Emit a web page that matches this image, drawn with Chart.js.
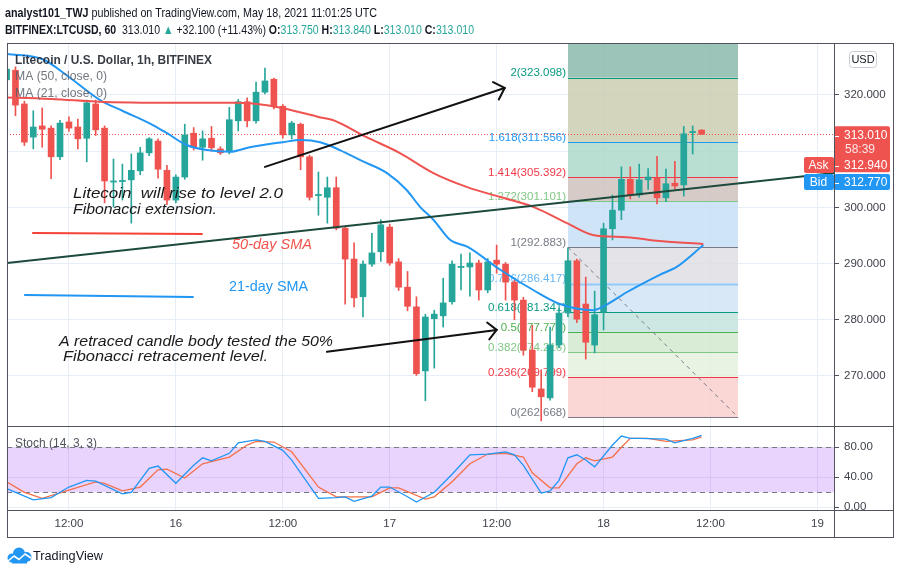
<!DOCTYPE html>
<html><head><meta charset="utf-8">
<script src="https://cdn.jsdelivr.net/npm/chart.js@4.4.1/dist/chart.umd.min.js"></script>
<style>
html,body{margin:0;padding:0;background:#fff;overflow:hidden;}
#wrap{position:relative;width:900px;height:574px;background:#fff;}
canvas{position:absolute;left:0;top:0;}
</style></head><body>
<div id="wrap"><canvas id="main" width="900" height="574"></canvas><canvas id="stoch" width="900" height="574"></canvas></div>
<script>
// ---------- DATA ----------
// hours counted from May 15 00:00 UTC
const candleHours = [5,6,7,8,9,10,11,12,13,14,15,16,17,18,19,20,21,22,23,24,25,26,27,28,29,30,31,32,33,34,35,36,37,38,39,40,41,42,43,44,45,46,47,48,49,50,51,52,53,54,55,56,57,58,59,60,61,62,63,64,65,66,67,68,69,70,71,72,73,74,75,76,77,78,79,80,81,82,83];
const opens  = [322.7,324.4,318.4,312.5,314.5,314.1,309.0,315.2,314.3,312.3,318.4,314.1,304.5,304.6,304.9,306.5,309.7,311.8,306.6,301.3,305.4,313.2,310.7,312.3,310.4,309.9,315.4,318.8,315.4,320.5,322.8,318.0,312.9,314.8,309.0,302.1,301.8,303.5,296.3,290.8,284.1,289.9,292.1,296.5,290.3,285.8,282.3,270.9,280.2,280.7,283.2,289.3,289.4,290.1,285.3,290.6,289.9,286.7,283.5,274.6,267.7,266.1,275.5,281.2,290.5,282.8,275.5,281.4,296.2,299.5,305.0,302.2,304.9,305.2,301.7,304.3,304.0,313.3,313.75];
const highs  = [325.5,325.0,318.9,317.2,317.7,314.5,315.5,316.1,315.7,319.1,319.1,314.5,308.6,307.7,309.5,310.7,312.4,312.2,307.5,305.8,314.8,314.2,313.6,314.4,310.8,317.8,319.2,319.5,322.3,324.8,323.0,318.3,315.3,315.0,309.3,306.3,305.4,305.4,296.6,293.7,290.5,295.4,297.8,297.0,290.9,288.6,284.1,281.0,281.7,287.4,290.5,291.7,291.9,290.6,290.9,293.3,290.2,287.0,284.0,279.0,271.1,278.7,282.0,292.8,290.8,287.6,285.1,297.2,302.2,307.2,307.2,307.7,306.9,309.1,306.8,308.2,314.4,314.5,313.84];
const lows   = [322.0,316.3,311.0,310.4,310.7,305.1,308.5,313.5,310.4,308.1,312.8,300.8,300.1,301.3,297.2,305.8,309.2,305.2,300.5,300.8,305.0,310.2,308.4,310.0,309.4,309.5,313.6,314.3,315.0,320.2,317.5,312.3,312.2,306.7,301.3,298.6,297.2,296.0,282.8,282.3,280.5,289.5,290.4,289.7,285.2,281.6,270.1,265.6,271.4,278.7,282.8,285.3,284.2,283.5,284.8,288.3,283.5,280.0,273.7,267.2,262.0,265.7,275.0,280.5,279.5,273.0,274.1,278.2,294.2,297.8,301.5,301.8,303.2,300.6,301.0,303.3,302.0,309.5,313.01];
const closes = [324.6,318.2,311.6,314.3,313.9,309.0,315.0,314.1,312.2,318.6,313.8,304.7,304.7,304.8,306.6,309.7,312.2,306.8,301.3,305.4,312.9,310.7,312.2,310.6,309.7,315.6,318.8,315.4,320.5,322.5,317.9,312.9,315.0,309.0,301.8,302.3,303.5,296.3,290.8,283.9,289.9,291.9,296.9,290.1,285.8,282.4,270.4,280.5,281.0,283.0,289.9,289.5,290.1,285.3,290.3,289.9,286.7,283.5,274.6,268.0,266.3,275.5,281.2,290.5,280.1,276.0,280.9,296.2,299.5,305.0,302.2,304.9,305.4,301.7,304.2,303.8,313.1,313.5,313.01];

const ma50Hours  = [4,10,16,26,31,34,37,40,41.6,45.4,49.1,52.9,56.7,60.4,64.1,67.9,70.8,74.6,78.3,83.2];
const ma50Values = [319.6,319.3,318.75,318.6,318.6,318.2,317.3,316.1,315.55,312.5,309.7,306.1,303.6,301.85,300.1,297.2,295.1,294.7,294.0,293.5];
const ma21Hours  = [5,9,12,15.5,18,21,23,25.2,27.5,30.1,32.3,36,38,40.2,42.4,44.7,47.7,49.9,51.4,52.9,54.8,56.7,60.4,64.1,67.1,70.8,71.9,74.6,78.3,80.2,83.2];
const ma21Values = [327.3,326.4,323.2,319.1,317.2,315.0,313.2,311.1,310.2,309.9,310.7,311.6,312.0,311.6,310.2,308.4,306.1,303.1,300.1,297.8,294.2,293.0,288.9,285.3,282.8,281.7,282.3,284.9,288.0,289.4,293.3];

const stochKHours  = [5,8,10,12,14,15,18,19,21,22,24,26,27,28,30,31,33,34,36,37,40,42,43,44,46,47,48,50,51,53,55,57,59,61,62,63,65,66,67,68,69,70,71,73,74,75,76,79,80,82,83];
const stochKValues = [25,10,13,27,36,35,18,20,52,55,32,56,66,62,72,86,90,88,76,63,12,13,14,8,15,27,27,14,7,20,44,70,71,74,70,56,19,22,36,66,70,63,54,83,95,92,92,91,86,92,96];
const stochDHours  = [5,7,9,12,15,16,18,20,22,23,25,27,30,32,33,35,37,40,42,44,46,48,49,52,53,55,57,59,61,63,64,66,67,69,70,71,73,74,75,77,79,82,83];
const stochDValues = [34,20,12,23,34,32,22,27,50,51,39,58,67,83,88,87,74,27,14,14,14,26,26,11,14,34,58,71,72,67,46,26,26,58,66,62,67,80,92,92,88,90,94];

const xTickHours  = [12,24,36,48,60,72,84,96];
const xTickLabels = ['12:00','16','12:00','17','12:00','18','12:00','19'];
const priceTicks  = [270,280,290,300,310,320];
const stochTicks  = [0,40,80];

const fibRatios = [0,0.236,0.382,0.5,0.618,0.786,1,1.272,1.414,1.618,2];
const fibPrices = [262.668,269.799,274.216,277.776,281.341,286.417,292.883,301.101,305.392,311.556,323.098];
const fibStartHour = 68, fibEndHour = 87.1;

const lastPrice = 313.010, askPrice = 312.940, bidPrice = 312.770;

// drawings, in (hour, price) coordinates
const trendLine     = [[5.05,290.1],[97.86,306.1]];
const arrowUp       = [[34.0,307.2],[60.9,321.25]];
const arrowRetrace  = [[40.96,274.3],[60.0,278.2]];
const redMarker     = [[7.96,295.44],[26.93,295.27]];
const blueMarker    = [[7.06,284.41],[25.92,284.06]];

// ---------- STYLE ----------
const X_MIN = 5.05, X_MAX = 97.86;
const Y_MIN = 261.1, Y_MAX = 329.25;
const S_MIN = -3.6, S_MAX = 108.4;
const UP = '#26a69a', DOWN = '#ef5350';
const GRID = '#e8eef5';
const FRAME = '#50535e';
const AXIS_TXT = '#3f424c';
const FONT = "'Liberation Sans', Roboto, sans-serif";
Chart.defaults.font.family = FONT;

const fibBandObserved = ['#fad7d4','#e8f3e4','#d9edd6','#cde8e2','#d8e8f6','#e4e4e8','#d0e4f8','#d7cbc8','#b8dfd1','#d3d5bc','#9cc4b8'];
const fibLineColors  = ['#787b86','#f23645','#81c784','#4caf50','#089981','#90caf9','#787b86','#81c784','#f23645','#2196f3','#089981'];
const fibLabelColors = ['#787b86','#f23645','#81c784','#4caf50','#089981','#64b5f6','#787b86','#81c784','#f23645','#2196f3','#089981'];

function bandRGBA(hex, a){
  const r=parseInt(hex.slice(1,3),16), g=parseInt(hex.slice(3,5),16), b=parseInt(hex.slice(5,7),16);
  const f=v=>Math.max(0,Math.min(255,Math.round((v-255*(1-a))/a)));
  return `rgba(${f(r)},${f(g)},${f(b)},${a})`;
}
function fontStr(s,size,family){ return `${s.i?'italic ':''}${s.b?'bold ':''}${size}px ${family}`; }
function drawRich(ctx, segs, x, yMid, targetW, size, family){
  ctx.save();
  ctx.textBaseline='middle'; ctx.textAlign='left';
  let total=0;
  const ws=segs.map(s=>{ctx.font=fontStr(s,size,family);const w=ctx.measureText(s.t).width;total+=w;return w;});
  const sc=targetW?targetW/total:1;
  ctx.translate(x,yMid); ctx.scale(sc,1);
  let cx=0;
  segs.forEach((s,i)=>{ctx.font=fontStr(s,size,family);ctx.fillStyle=s.c||'#131722';ctx.fillText(s.t,cx,0);cx+=ws[i];});
  ctx.restore();
}
function rrect(ctx,x,y,w,h,r){ctx.beginPath();ctx.moveTo(x+r,y);ctx.lineTo(x+w-r,y);ctx.quadraticCurveTo(x+w,y,x+w,y+r);ctx.lineTo(x+w,y+h-r);ctx.quadraticCurveTo(x+w,y+h,x+w-r,y+h);ctx.lineTo(x+r,y+h);ctx.quadraticCurveTo(x,y+h,x,y+h-r);ctx.lineTo(x,y+r);ctx.quadraticCurveTo(x,y,x+r,y);ctx.closePath();}

function P(chart,pt){return [chart.scales.x.getPixelForValue(pt[0]), chart.scales.y.getPixelForValue(pt[1])];}
function seg(ctx,a,b){ctx.beginPath();ctx.moveTo(a[0],a[1]);ctx.lineTo(b[0],b[1]);ctx.stroke();}
function arrow(ctx,a,b,len){
  seg(ctx,a,b);
  const ang=Math.atan2(b[1]-a[1],b[0]-a[0]);
  [Math.PI*0.75,-Math.PI*0.75].forEach(d=>{
    ctx.beginPath();ctx.moveTo(b[0],b[1]);ctx.lineTo(b[0]+len*Math.cos(ang+d),b[1]+len*Math.sin(ang+d));ctx.stroke();
  });
}

const mainPlugin = {
  id:'mainDeco',
  beforeDatasetsDraw(chart){
    const ctx=chart.ctx, ca=chart.chartArea, ys=chart.scales.y, xs=chart.scales.x;
    ctx.save();
    ctx.beginPath(); ctx.rect(ca.left,ca.top,ca.right-ca.left,ca.bottom-ca.top); ctx.clip();
    const x0=Math.round(xs.getPixelForValue(fibStartHour)), x1=Math.round(xs.getPixelForValue(fibEndHour));
    for(let i=0;i<fibPrices.length;i++){
      const yb=ys.getPixelForValue(fibPrices[i]);
      const yt=i+1<fibPrices.length?ys.getPixelForValue(fibPrices[i+1]):ca.top;
      ctx.fillStyle=bandRGBA(fibBandObserved[i],0.82);
      ctx.fillRect(x0,yt,x1-x0,yb-yt);
    }
    fibPrices.forEach((p,i)=>{
      const y=Math.round(ys.getPixelForValue(p))+0.5;
      ctx.strokeStyle=fibLineColors[i]; ctx.lineWidth=(i===5)?2:1;
      seg(ctx,[x0,y],[x1,y]);
    });
    // diagonal trend of the fib tool
    ctx.setLineDash([4,4]); ctx.strokeStyle='#787b86'; ctx.lineWidth=1;
    seg(ctx,[x0,ys.getPixelForValue(fibPrices[6])],[x1,ys.getPixelForValue(fibPrices[0])]);
    ctx.setLineDash([]);
    // labels
    ctx.font='11.5px '+FONT; ctx.textAlign='right'; ctx.textBaseline='bottom';
    fibPrices.forEach((p,i)=>{
      ctx.fillStyle=fibLabelColors[i];
      ctx.fillText(`${fibRatios[i]}(${p.toFixed(3)})`, x0-2, ys.getPixelForValue(p)+1);
    });
    // last price dotted line
    const yl=Math.round(ys.getPixelForValue(lastPrice))+0.5;
    ctx.setLineDash([1,2]); ctx.strokeStyle=DOWN; ctx.lineWidth=1;
    seg(ctx,[ca.left,yl],[ca.right,yl]);
    ctx.setLineDash([]);
    ctx.restore();
  },
  afterDatasetsDraw(chart){
    const ctx=chart.ctx, ca=chart.chartArea;
    ctx.save();
    ctx.beginPath(); ctx.rect(ca.left,ca.top,ca.right-ca.left,ca.bottom-ca.top); ctx.clip();
    ctx.lineCap='round';
    ctx.strokeStyle='#1d4a3d'; ctx.lineWidth=2;
    seg(ctx,P(chart,trendLine[0]),P(chart,trendLine[1]));
    ctx.strokeStyle='#111'; ctx.lineWidth=2;
    arrow(ctx,P(chart,arrowUp[0]),P(chart,arrowUp[1]),13);
    arrow(ctx,P(chart,arrowRetrace[0]),P(chart,arrowRetrace[1]),12);
    ctx.strokeStyle='#f44336'; seg(ctx,P(chart,redMarker[0]),P(chart,redMarker[1]));
    ctx.strokeStyle='#2196f3'; seg(ctx,P(chart,blueMarker[0]),P(chart,blueMarker[1]));
    // annotations
    drawRich(ctx,[{t:'Litecoin  will rise to level 2.0',i:true,c:'#1a1a1a'}],73,194,210,14.5,FONT);
    drawRich(ctx,[{t:'Fibonacci extension.',i:true,c:'#1a1a1a'}],73,210,144,14.5,FONT);
    drawRich(ctx,[{t:'50-day SMA',i:true,c:'#f0524c'}],232,245,80,15,FONT);
    drawRich(ctx,[{t:'21-day SMA',c:'#2196f3'}],229,287,79,15,FONT);
    drawRich(ctx,[{t:'A retraced candle body tested the 50%',i:true,c:'#1a1a1a'}],59,342,274,14.5,FONT);
    drawRich(ctx,[{t:'Fibonacci retracement level.',i:true,c:'#1a1a1a'}],63,357,205,14.5,FONT);
    // legend
    drawRich(ctx,[{t:'Litecoin / U.S. Dollar, 1h, BITFINEX',b:true,c:'rgba(19,23,34,0.85)'}],15,60,197,13,FONT);
    drawRich(ctx,[{t:'MA (50, close, 0)',c:'rgba(90,94,106,0.85)'}],15,76,92,13,FONT);
    drawRich(ctx,[{t:'MA (21, close, 0)',c:'rgba(90,94,106,0.85)'}],15,93,92,13,FONT);
    ctx.restore();
  },
  afterDraw(chart){
    const ctx=chart.ctx;
    ctx.save();
    // header
    const teal='#26a69a';
    drawRich(ctx,[{t:'analyst101_TWJ',b:true},{t:' published on TradingView.com, May 18, 2021 11:01:25 UTC'}],5,13,372,13,FONT);
    drawRich(ctx,[{t:'BITFINEX:LTCUSD, 60',b:true},{t:'  313.010 '},{t:'\u25B2',c:teal},{t:' +32.100 (+11.43%) '},{t:'O:',b:true},{t:'313.750',c:teal},{t:' H:',b:true},{t:'313.840',c:teal},{t:' L:',b:true},{t:'313.010',c:teal},{t:' C:',b:true},{t:'313.010',c:teal}],5,30,469,13,FONT);
    // USD badge
    rrect(ctx,849.5,51.5,27,16,3); ctx.fillStyle='#fff'; ctx.fill(); ctx.strokeStyle='#c9ccd4'; ctx.lineWidth=1; ctx.stroke();
    ctx.fillStyle='#131722'; ctx.font='11px '+FONT; ctx.textAlign='center'; ctx.textBaseline='middle';
    ctx.fillText('USD',863,60);
    // price labels
    const ys=chart.scales.y;
    const yl=ys.getPixelForValue(lastPrice);
    ctx.fillStyle=DOWN;
    rrect(ctx,834,yl-8,56,46,2); ctx.fill();
    rrect(ctx,804,157,30,16,2); ctx.fill();
    ctx.fillStyle='#2196f3';
    rrect(ctx,834,174,56,16,2); ctx.fill();
    rrect(ctx,804,174,30,16,2); ctx.fill();
    ctx.fillStyle='#fff'; ctx.font='12px '+FONT; ctx.textAlign='left';
    ctx.fillText(lastPrice.toFixed(3),844,yl+1.5);
    ctx.fillStyle='rgba(255,255,255,0.85)'; ctx.fillText('58:39',845,150);
    ctx.fillStyle='#fff';
    ctx.fillText(askPrice.toFixed(3),844,165.5);
    ctx.fillText(bidPrice.toFixed(3),844,182.5);
    ctx.textAlign='center';
    ctx.fillText('Ask',818.5,165.5); ctx.fillText('Bid',818.5,182.5);
    ctx.strokeStyle='#fff'; ctx.lineWidth=1;
    [yl+1.5,165.5,182.5].forEach(y=>seg(ctx,[835,Math.round(y)+0.5],[839,Math.round(y)+0.5]));
    // logo
    ctx.fillStyle='#2196f3';
    ctx.beginPath();
    ctx.arc(12,558,4.5,0,Math.PI*2); ctx.arc(19,553.5,6,0,Math.PI*2); ctx.arc(26.5,557,5,0,Math.PI*2);
    ctx.fill();
    ctx.fillRect(12,556,15,7.5);
    ctx.strokeStyle='#fff'; ctx.lineWidth=1.6; ctx.lineJoin='round';
    ctx.beginPath(); ctx.moveTo(8,561); ctx.lineTo(14,556); ctx.lineTo(19,559.5); ctx.lineTo(25,554); ctx.lineTo(31,558); ctx.stroke();
    drawRich(ctx,[{t:'TradingView',c:'#131722'}],33,556,70,13.5,FONT);
    ctx.restore();
  }
};

const stochPlugin = {
  id:'stochDeco',
  beforeDatasetsDraw(chart){
    const ctx=chart.ctx, ca=chart.chartArea, ys=chart.scales.y;
    ctx.save();
    const y80=ys.getPixelForValue(80), y20=ys.getPixelForValue(20);
    ctx.fillStyle='rgba(155,60,246,0.22)';
    ctx.fillRect(ca.left,y80,ca.right-ca.left,y20-y80);
    ctx.setLineDash([5,4]); ctx.strokeStyle='#787b86'; ctx.lineWidth=1;
    [y80,y20].forEach(y=>seg(ctx,[ca.left,Math.round(y)+0.5],[ca.right,Math.round(y)+0.5]));
    ctx.setLineDash([]);
    ctx.restore();
  },
  afterDraw(chart){
    const ctx=chart.ctx;
    ctx.save();
    drawRich(ctx,[{t:'Stoch (14, 3, 3)',c:'#50535e'}],15,443,82,13,FONT);
    ctx.fillStyle='#fff'; ctx.fillRect(835,511,58,25);
    ctx.strokeStyle=FRAME; ctx.lineWidth=1;
    ctx.strokeRect(7.5,43.5,886,494);
    seg(ctx,[834.5,43],[834.5,537]);
    seg(ctx,[7,426.5],[893,426.5]);
    seg(ctx,[7,510.5],[893,510.5]);
    ctx.restore();
  }
};

const candleColors = candleHours.map((h,i)=>closes[i]>=opens[i]?UP:DOWN);

new Chart(document.getElementById('main'),{
  type:'bar',
  data:{datasets:[
    {type:'line',label:'MA 50',data:ma50Hours.map((h,i)=>({x:h,y:ma50Values[i]})),borderColor:'#ef5350',borderWidth:2,pointRadius:0,tension:0.4,cubicInterpolationMode:'monotone',order:0},
    {type:'line',label:'MA 21',data:ma21Hours.map((h,i)=>({x:h,y:ma21Values[i]})),borderColor:'#2196f3',borderWidth:2,pointRadius:0,tension:0.4,cubicInterpolationMode:'monotone',order:0},
    {label:'body',data:candleHours.map((h,i)=>({x:h,y:[opens[i],closes[i]]})),backgroundColor:candleColors,barThickness:6,grouped:false,minBarLength:1,order:1},
    {label:'wick',data:candleHours.map((h,i)=>({x:h,y:[lows[i],highs[i]]})),backgroundColor:candleColors,barThickness:1,grouped:false,order:2}
  ]},
  options:{
    responsive:false,animation:false,devicePixelRatio:1,
    layout:{padding:{left:7,top:43,right:7,bottom:148}},
    plugins:{legend:{display:false},tooltip:{enabled:false}},
    scales:{
      x:{type:'linear',min:X_MIN,max:X_MAX,offset:false,
         grid:{color:GRID,offset:false,drawTicks:false},border:{display:false},
         ticks:{display:false},
         afterBuildTicks:s=>{s.ticks=xTickHours.map(v=>({value:v}));},
         afterFit:s=>{s.height=0;}},
      y:{position:'right',min:Y_MIN,max:Y_MAX,
         grid:{color:GRID,tickLength:5,tickColor:FRAME},border:{display:false},
         ticks:{color:AXIS_TXT,font:{size:11.5},padding:5,callback:v=>Number(v).toFixed(3)},
         afterBuildTicks:s=>{s.ticks=priceTicks.map(v=>({value:v}));},
         afterFit:s=>{s.width=59;}}
    }
  },
  plugins:[mainPlugin]
});

new Chart(document.getElementById('stoch'),{
  type:'line',
  data:{datasets:[
    {label:'%K',data:stochKHours.map((h,i)=>({x:h,y:stochKValues[i]})),borderColor:'#2196f3',borderWidth:1.3,pointRadius:0,tension:0},
    {label:'%D',data:stochDHours.map((h,i)=>({x:h,y:stochDValues[i]})),borderColor:'#f4704a',borderWidth:1.3,pointRadius:0,tension:0}
  ]},
  options:{
    responsive:false,animation:false,devicePixelRatio:1,
    layout:{padding:{left:7,top:426,right:7,bottom:37}},
    plugins:{legend:{display:false},tooltip:{enabled:false}},
    scales:{
      x:{type:'linear',min:X_MIN,max:X_MAX,
         grid:{color:GRID,drawTicks:false},border:{display:false},
         ticks:{color:AXIS_TXT,font:{size:11.5},padding:7,maxRotation:0,autoSkip:false,
                callback:v=>{const k=xTickHours.indexOf(v);return k>=0?xTickLabels[k]:'';}},
         afterBuildTicks:s=>{s.ticks=xTickHours.map(v=>({value:v}));},
         afterFit:s=>{s.height=27;}},
      y:{position:'right',min:S_MIN,max:S_MAX,
         grid:{color:GRID,tickLength:5,tickColor:FRAME},border:{display:false},
         ticks:{color:AXIS_TXT,font:{size:11.5},padding:5,callback:v=>Number(v).toFixed(2)},
         afterBuildTicks:s=>{s.ticks=stochTicks.map(v=>({value:v}));},
         afterFit:s=>{s.width=59;}}
    }
  },
  plugins:[stochPlugin]
});
</script>
</body></html>
